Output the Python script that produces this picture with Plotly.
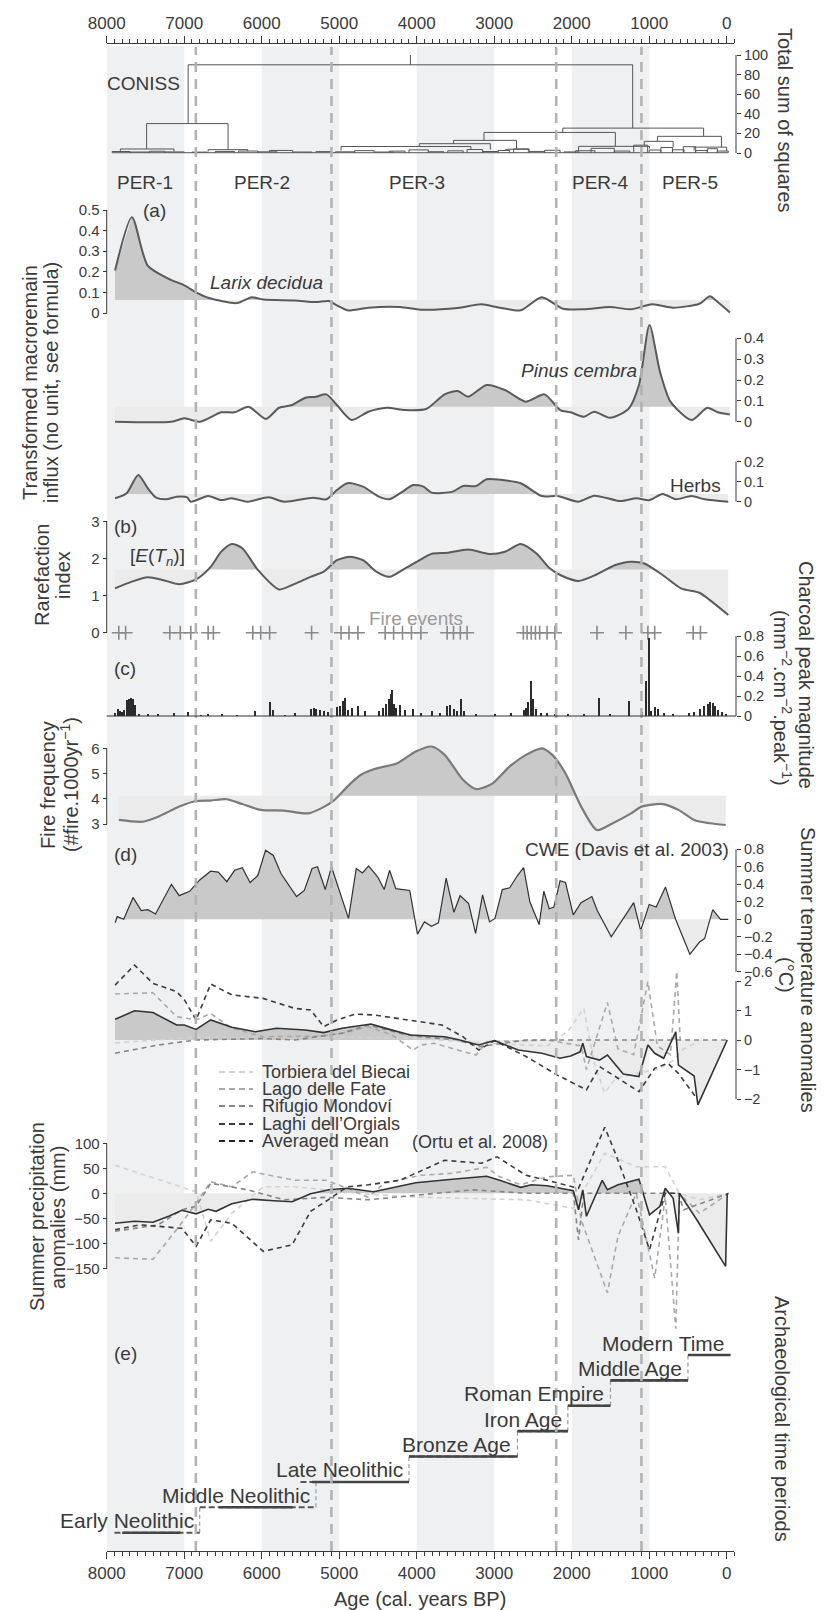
import plotly.graph_objects as go

W, H = 825, 1610
FONT = "Liberation Sans, Arial, Helvetica, sans-serif"
INK = "#3a3a3a"
DARK = "#c9c9c9"
LIGHT = "#ebebeb"
BAND = "#eff0f2"

# ---------------- data ----------------
zone_bounds = [6850, 5100, 2200, 1100]
band_starts = [8000, 6000, 4000, 2000]
band_ends = [7000, 5000, 3000, 1000]
zone_names = ["PER-1", "PER-2", "PER-3", "PER-4", "PER-5"]
zone_label_x = [7500, 6000, 4000, 1630, 480]

# CONISS merges: (left, right, height, left child h, right child h)
coniss_tree = [
    (6949, 1213, 90, 30, 25.4), (7485, 6434, 30, 4.1, 3.4), (7824, 7132, 4.1, 1.5, 1.8),
    (6691, 6180, 3.4, 1.6, 2.0), (2115, 298, 25.4, 21, 17), (3132, 1437, 21, 12.9, 6.8),
    (3525, 2712, 12.9, 9.5, 3.8), (3966, 3050, 9.5, 6.6, 3.6), (4976, 3300, 6.6, 2.4, 3.2),
    (2850, 2560, 3.8, 2.6, 1.6), (1912, 996, 6.8, 2.3, 4.8), (894, 68, 17, 11.9, 6.0),
    (1064, 691, 11.9, 8.0, 5.6), (420, 0, 6.0, 2.5, 2.0),
]
coniss_small = [
    (7930, 7700, 1.5), (7700, 7450, 1.0), (7450, 7250, 1.8), (7250, 7000, 1.1), (6900, 6700, 0.9),
    (6600, 6350, 1.6), (6300, 6050, 2.0), (6050, 5800, 1.2), (5900, 5600, 2.6), (5600, 5350, 1.0),
    (5300, 5100, 1.4), (5050, 4800, 1.2), (4800, 4550, 2.4), (4550, 4300, 1.0), (4350, 4150, 1.9),
    (4100, 3850, 3.2), (3850, 3650, 1.3), (3600, 3400, 2.2), (3350, 3150, 3.6), (3150, 2950, 1.5),
    (2950, 2800, 2.6), (2750, 2550, 4.2), (2550, 2350, 1.6), (2350, 2150, 2.8), (2100, 1900, 1.1),
    (1950, 1700, 2.3), (1750, 1450, 4.8), (1450, 1250, 2.0), (1200, 1020, 8.0), (1000, 850, 3.0),
    (850, 700, 5.6), (700, 550, 3.3), (560, 400, 6.4), (400, 250, 2.5), (250, 120, 4.4), (120, -20, 2.0),
]
coniss_root_top = 100

larix_age = [7892, 7675, 7471, 7200, 6997, 6847, 6692, 6318, 6130, 5980, 5573, 5302, 5132, 5030, 4895,
             4624, 4216, 3946, 3471, 3166, 2929, 2657, 2386, 2115, 1844, 1505, 1234, 963, 691, 352, 217, 115, -41]
larix_val = [0.206, 0.465, 0.23, 0.166, 0.134, 0.10, 0.074, 0.048, 0.077, 0.065, 0.061, 0.053, 0.058, 0.037, 0.013,
             0.026, 0.029, 0.016, 0.024, 0.042, 0.026, 0.013, 0.077, 0.021, 0.018, 0.029, 0.018, 0.042, 0.026, 0.045, 0.081, 0.053, 0.002]
larix_thr = 0.063

pinus_age = [7892, 7166, 6997, 6793, 6522, 6352, 6169, 5946, 5776, 5607, 5437, 5302, 5166, 5030, 4840, 4624, 4386,
             4149, 3878, 3640, 3471, 3335, 3098, 2861, 2590, 2352, 2149, 2013, 1844, 1708, 1505, 1268, 1132, 996,
             861, 725, 454, 250, 115, -41]
pinus_val = [0.0, 0.0, 0.016, 0.0, 0.045, 0.045, 0.072, 0.013, 0.067, 0.08, 0.115, 0.12, 0.131, 0.08, 0.008, 0.048, 0.067,
             0.056, 0.061, 0.131, 0.147, 0.12, 0.176, 0.152, 0.096, 0.131, 0.056, 0.045, 0.024, 0.048, 0.019, 0.061, 0.176, 0.464,
             0.24, 0.096, 0.008, 0.067, 0.045, 0.035]
pinus_thr = 0.072

herbs_age = [7892, 7743, 7593, 7471, 7369, 7234, 7098, 6963, 6915, 6692, 6522, 6386, 6183, 5912, 5709, 5336, 5166,
             5030, 4895, 4692, 4488, 4352, 4183, 4047, 3912, 3810, 3539, 3403, 3234, 3098, 2895, 2657, 2386, 2183,
             1912, 1708, 1369, 1166, 996, 827, 657, 454, 284, -20]
herbs_val = [0.017, 0.042, 0.133, 0.067, 0.022, 0.012, 0.025, 0.022, 0.0, 0.028, 0.008, 0.017, 0.0, 0.022, 0.0, 0.02, 0.012,
             0.058, 0.092, 0.075, 0.025, 0.012, 0.05, 0.083, 0.075, 0.045, 0.05, 0.078, 0.078, 0.112, 0.108, 0.092, 0.028, 0.028,
             0.0, 0.03, 0.003, 0.017, 0.008, 0.038, 0.012, 0.028, 0.012, 0.0]
herbs_thr = 0.038

rare_age = [7892, 7675, 7471, 7268, 7064, 6847, 6658, 6522, 6386, 6250, 6047, 5776, 5573, 5370, 5200, 5030, 4861,
            4692, 4522, 4352, 4149, 3946, 3810, 3607, 3335, 3064, 2861, 2657, 2454, 2284, 2149, 1912, 1674, 1437,
            1234, 1064, 827, 590, 352, 217, -20]
rare_val = [1.2, 1.38, 1.5, 1.42, 1.31, 1.44, 1.78, 2.19, 2.4, 2.28, 1.69, 1.17, 1.32, 1.51, 1.65, 1.96, 2.05,
            1.96, 1.65, 1.51, 1.74, 1.98, 2.13, 2.16, 2.25, 2.13, 2.19, 2.4, 2.14, 1.74, 1.56, 1.40, 1.58, 1.83,
            1.92, 1.87, 1.56, 1.2, 1.08, 0.88, 0.48]
rare_thr = 1.71

fire_events = [7844, 7756, 7186, 7051, 6915, 6691, 6624, 6115, 6013, 5898, 5356, 4976, 4874, 4759, 4407, 4298,
               4183, 4068, 3946, 3607, 3525, 3437, 3349, 2624, 2576, 2522, 2468, 2413, 2318, 2217, 1674, 1301,
               1017, 929, 433, 339]

char_age = [7892, 7864, 7837, 7810, 7776, 7742, 7715, 7688, 7661, 7634, 7593, 7471, 7336, 7132, 6949, 6793, 6691,
            6522, 6319, 6095, 5898, 5858, 5708, 5573, 5369, 5335, 5302, 5247, 5200, 5152, 5030, 4990, 4949, 4929,
            4895, 4840, 4759, 4671, 4488, 4434, 4400, 4366, 4339, 4318, 4298, 4271, 4217, 4149, 4047, 3946, 3810,
            3708, 3607, 3573, 3525, 3485, 3437, 3390, 3234, 2996, 2793, 2623, 2590, 2562, 2535, 2508, 2468, 2400,
            2318, 2217, 2047, 1844, 1654, 1505, 1268, 1098, 1044, 1003, 976, 929, 895, 813, 691, 488, 420, 352,
            298, 250, 217, 183, 149, 115, 68, 14]
char_val = [0.03, 0.075, 0.05, 0.04, 0.065, 0.16, 0.17, 0.18, 0.175, 0.11, 0.02, 0.02, 0.02, 0.03, 0.04, 0.01, 0.02,
            0.02, 0.01, 0.05, 0.14, 0.06, 0.01, 0.03, 0.07, 0.08, 0.07, 0.06, 0.05, 0.04, 0.09, 0.10, 0.15, 0.18,
            0.06, 0.08, 0.10, 0.05, 0.05, 0.08, 0.12, 0.17, 0.22, 0.26, 0.12, 0.08, 0.11, 0.06, 0.07, 0.03, 0.05,
            0.03, 0.10, 0.11, 0.07, 0.05, 0.17, 0.05, 0.02, 0.02, 0.03, 0.06, 0.08, 0.14, 0.35, 0.17, 0.07, 0.03,
            0.03, 0.02, 0.02, 0.02, 0.18, 0.02, 0.15, 0.04, 0.35, 0.78, 0.05, 0.09, 0.07, 0.03, 0.02, 0.03, 0.04, 0.07,
            0.10, 0.12, 0.14, 0.13, 0.10, 0.06, 0.04, 0.02]

ff_age = [7844, 7539, 7336, 7064, 6847, 6658, 6454, 6251, 6013, 5708, 5403, 5234, 5064, 4895, 4725, 4556, 4251,
          4013, 3810, 3640, 3403, 3234, 3030, 2793, 2590, 2386, 2250, 2081, 1878, 1674, 1471, 1234, 1098, 827,
          623, 420, 217, 13]
ff_val = [3.16, 3.09, 3.29, 3.69, 3.91, 3.93, 3.98, 3.79, 3.56, 3.53, 3.42, 3.62, 3.95, 4.48, 4.94, 5.17, 5.41,
          5.87, 6.07, 5.74, 4.75, 4.38, 4.59, 5.3, 5.74, 6.0, 5.74, 5.01, 3.69, 2.76, 3.03, 3.42, 3.69, 3.79,
          3.56, 3.16, 3.03, 2.96]
ff_thr = 4.12

cwe_age = [7890, 7865, 7780, 7660, 7555, 7470, 7370, 7165, 7065, 6930, 6800, 6660, 6560, 6450, 6350, 6250, 6150,
           6050, 5950, 5850, 5750, 5550, 5450, 5350, 5280, 5180, 5100, 4880, 4780, 4700, 4620, 4500, 4420, 4350,
           4270, 4150, 4090, 3990, 3900, 3810, 3720, 3620, 3520, 3440, 3330, 3240, 3150, 3060, 2990, 2895, 2800,
           2700, 2620, 2540, 2420, 2360, 2290, 2230, 2150, 2080, 1980, 1880, 1740, 1670, 1490, 1200, 1110, 1000,
           910, 790, 660, 475, 350, 285, 180, 80, -20]
cwe_val = [-0.04, 0.03, 0.0, 0.25, 0.10, 0.11, 0.06, 0.40, 0.27, 0.32, 0.45, 0.55, 0.54, 0.43, 0.56, 0.59, 0.42,
           0.50, 0.79, 0.73, 0.52, 0.26, 0.33, 0.58, 0.60, 0.34, 0.60, 0.01, 0.58, 0.53, 0.61, 0.48, 0.34, 0.56,
           0.35, 0.34, 0.33, -0.17, -0.03, -0.08, -0.04, 0.47, 0.08, 0.27, 0.18, -0.16, 0.28, -0.03, 0.01, 0.34, 0.36,
           0.50, 0.59, 0.20, -0.06, 0.32, 0.12, 0.14, 0.44, 0.42, 0.05, 0.19, 0.26, 0.10, -0.20, 0.19, -0.13, 0.17,
           0.14, 0.37, 0.0, -0.40, -0.26, -0.22, 0.11, 0.0, 0.0]

series_names = ["Torbiera del Biecai", "Lago delle Fate", "Rifugio Mondoví", "Laghi dell\u2019Orgials", "Averaged mean"]
series_colors = ["#d2d2d2", "#a9a9a9", "#858585", "#3c3c3c", "#222222"]

t_mean_age = [7892, 7641, 7403, 7098, 6997, 6847, 6658, 6386, 6081, 5810, 5437, 5200, 4963, 4590, 4352, 4081, 3640,
              3471, 3200, 2996, 2691, 2386, 2149, 2013, 1891, 1857, 1810, 1640, 1539, 1335, 1132, 1017, 929, 813,
              657, 623, 420, 372, -7]
t_mean_val = [0.70, 0.99, 0.93, 0.51, 0.51, 0.36, 0.68, 0.43, 0.28, 0.40, 0.34, 0.25, 0.40, 0.54, 0.36, 0.17, 0.11,
              0.02, -0.17, -0.02, -0.34, -0.45, -0.62, -0.54, -0.40, -0.11, -0.56, -0.68, -0.51, -1.15, -1.24, -0.17, -0.45, -0.62,
              0.28, -0.85, -1.22, -2.2, 0.0]
t_orgials_age = [7892, 7641, 7403, 7098, 6997, 6847, 6658, 6386, 5980, 5573, 5369, 5200, 5030, 4793, 4556, 4149, 3674,
                 3403, 3200, 2996, 2590, 2183, 1810, 1640, 1437, 1132, 929, 759, 623, 386]
t_orgials_val = [1.86, 2.54, 1.92, 1.64, 1.36, 0.68, 1.90, 1.53, 1.41, 1.07, 1.02, 0.45, 0.68, 0.88, 0.85, 0.70, 0.51,
                 0.11, -0.34, -0.02, -0.56, -1.19, -1.69, -0.90, -1.24, -1.75, -0.96, -0.79, -1.13, -1.98]
t_fate_age = [7892, 7403, 7098, 6847, 6658, 6386, 5980, 5573, 5234, 4963, 4624, 4318, 4047, 3946, 3776, 3471, 3234,
              3098, 2318, 1878, 1810, 1539, 1403, 1200, 1017, 895, 725, 644, 600]
t_fate_val = [1.56, 1.60, 0.79, 0.68, 0.90, 0.40, 0.11, 0.11, 0.13, 0.23, 0.45, 0.17, -0.34, -0.17, -0.11, -0.34, -0.51,
              -0.06, 0.0, -0.2, -1.0, 1.27, -0.3, -0.5, 1.98, -0.2, -0.5, 2.32, 0.0]
t_mondovi_age = [7892, 7336, 6847, 6386, 5980, 5573, 5234, 4963, 4624, 4217, 4013, 3471, 3200, 2590, -27]
t_mondovi_val = [-0.45, -0.17, 0.0, 0.02, 0.05, 0.0, 0.13, 0.23, 0.51, 0.23, 0.13, 0.0, -0.23, 0.0, 0.0]
t_biecai_age = [7892, 6847, 5980, 4963, 3946, 3200, 2318, 2047, 1844, 1708, 1573, 1437, 1166, 895, 691, 556, 386]
t_biecai_val = [-0.1, 0.1, 0.05, 0.1, 0.05, -0.1, -0.2, 0.3, 1.07, -0.8, -1.8, -1.3, -1.13, -1.0, -0.7, -0.3, -0.1]

p_mean_age = [7892, 7641, 7403, 7200, 7030, 6847, 6691, 6590, 6386, 6115, 5844, 5607, 5369, 5132, 4895, 4556, 4285,
              4013, 3539, 3166, 3098, 2929, 2657, 2522, 2318, 1979, 1912, 1857, 1810, 1606, 1539, 1403, 1132, 996,
              861, 793, 691, 623, 610, 386, 14, -7]
p_mean_val = [-60, -56, -58, -46, -34, -41, -32, -36, -21, -12, -15, -17, -1, 7, 10, 3, 12, 21, 28, 32, 34, 26, 12, 17,
              15, 5, -33, 7, -46, 26, 7, 17, 28, -43, -26, 10, -10, -80, 0, -53, -146, 0]
p_orgials_age = [7892, 7573, 7336, 7030, 6847, 6658, 6386, 5980, 5607, 5369, 5132, 4895, 4624, 4217, 3640, 3166, 2963,
                 2590, 2318, 1912, 1573, 1437, 1166, 996, 793, 623]
p_orgials_val = [-73, -63, -66, -70, -106, -53, -60, -116, -103, -36, -12, 13, 17, 26, 66, 60, 73, 36, 26, 10, 132, 80,
                 -33, -113, 0, 0]
p_fate_age = [7892, 7403, 7064, 6847, 6658, 6386, 6115, 5573, 5166, 4895, 4624, 4420, 3946, 3539, 3098, 2929, 2657,
              2318, 1979, 1878, 1539, 1403, 1166, 929, 793, 657, 610, 352, -27]
p_fate_val = [-129, -132, -66, -20, 23, 13, 43, 26, 26, 10, -8, 20, 36, 40, 52, 33, 17, 33, 36, -53, -199, -86, 0, -169,
              -7, -271, 0, -40, 0]
p_mondovi_age = [7892, 7336, 7030, 6847, 6658, 6183, 5708, 5166, 4624, 3946, 3268, 2590, 1979, 1912, 1844, 623, 556, -27]
p_mondovi_val = [-76, -63, -33, -26, 20, 7, -13, -8, -13, -3, 7, 0, 0, -93, 0, 0, -33, 0]
p_biecai_age = [7892, 6847, 6658, 6386, 5980, 5573, 5166, 4624, 3946, 3268, 2590, 1979, 1573, 1166, 793, 610, 352, -27]
p_biecai_val = [56, 3, -96, -40, 13, 13, 7, -2, -8, -10, -13, -30, 80, 53, 53, 0, -13, 0]

periods = ["Early Neolithic", "Middle Neolithic", "Late Neolithic", "Bronze Age", "Iron Age",
           "Roman Empire", "Middle Age", "Modern Time"]
per_start = [7900, 6800, 5500, 4100, 2700, 2050, 1500, 500]
per_end = [6800, 5300, 4100, 2700, 2050, 1500, 500, -50]
per_solid_start = [7800, 6550, 5350, 4100, 2700, 2050, 1500, 500]
per_solid_end = [7050, 5600, 4100, 2700, 2050, 1500, 500, -50]

x_ticks = [8000, 7000, 6000, 5000, 4000, 3000, 2000, 1000, 0]

# ---------------- helpers ----------------
def px(x):
    return x / W


def py(y):
    return 1 - y / H


def yaxis_def(v1, p1, v2, p2, top, bot, side, tickvals, ticktext, pos):
    k = (v2 - v1) / (p2 - p1)
    vtop = v1 + k * (top - p1)
    vbot = v1 + k * (bot - p1)
    d = dict(domain=[py(bot), py(top)], range=[vbot, vtop], anchor="free", position=px(pos), side=side,
             showgrid=False, zeroline=False, showline=False, fixedrange=True, automargin=False)
    if tickvals is None:
        d.update(visible=False)
    else:
        d.update(tickmode="array", tickvals=tickvals, ticktext=ticktext, ticks="outside", ticklen=4,
                 tickwidth=1, tickcolor=INK,
                 tickfont=dict(size=15 if side == "left" else 14.5, color=INK, family=FONT))
    return d


XL_PX, XR_PX = 106.7, 734.45
LEFT_AX, RIGHT_AX = 106.7, 736

fig = go.Figure()
shapes = []
annotations = []


def spine(yref, lo, hi, xpos):
    shapes.append(dict(type="line", xref="paper", yref=yref, x0=px(xpos), x1=px(xpos), y0=lo, y1=hi,
                       line=dict(color=INK, width=1)))


def fill_threshold(xs, ys, thr, yref, dark=DARK, light=LIGHT):
    X, Y = [], []
    for i in range(len(xs)):
        if i > 0 and (ys[i - 1] - thr) * (ys[i] - thr) < 0:
            t = (thr - ys[i - 1]) / (ys[i] - ys[i - 1])
            X.append(xs[i - 1] + t * (xs[i] - xs[i - 1]))
            Y.append(thr)
        X.append(xs[i])
        Y.append(ys[i])
    up = [max(v, thr) for v in Y]
    dn = [min(v, thr) for v in Y]
    for arr, col in ((dn, light), (up, dark)):
        fig.add_trace(go.Scatter(x=[X[0], X[-1]], y=[thr, thr], yaxis=yref, mode="lines",
                                 line=dict(width=0), hoverinfo="skip", showlegend=False))
        fig.add_trace(go.Scatter(x=X, y=arr, yaxis=yref, mode="lines", line=dict(width=0),
                                 fill="tonexty", fillcolor=col, hoverinfo="skip", showlegend=False))


def curve(xs, ys, yref, color="#5a5a5a", width=2.0, shape="spline", dash=None):
    fig.add_trace(go.Scatter(x=xs, y=ys, yaxis=yref, mode="lines",
                             line=dict(color=color, width=width, shape=shape, smoothing=0.7, dash=dash),
                             hoverinfo="skip", showlegend=False))


def text(s, x, y, size=19, color=INK, angle=0, xanchor="center", italic=False):
    annotations.append(dict(text=s, x=px(x), y=py(y), xref="paper", yref="paper", showarrow=False,
                            textangle=angle, xanchor=xanchor, yanchor="middle",
                            font=dict(size=size, color=color, family=FONT,
                                      style="italic" if italic else "normal")))


# ---------------- background bands & zone lines ----------------
for a, b in zip(band_starts, band_ends):
    shapes.append(dict(type="rect", xref="x", yref="paper", x0=a, x1=b, y0=py(1551), y1=py(46),
                       fillcolor=BAND, line=dict(width=0), layer="below"))
for z in zone_bounds:
    shapes.append(dict(type="line", xref="x", yref="paper", x0=z, x1=z, y0=py(1551), y1=py(47),
                       line=dict(color="#b3b3b3", width=2.6, dash="10px,7px"), layer="above"))

# ---------------- CONISS ----------------
cx, cy = [], []
for xl, xr, h, hl, hr in coniss_tree:
    cx += [xl, xl, xr, xr, None]
    cy += [hl, h, h, hr, None]
for xl, xr, h in coniss_small:
    cx += [xl, xl, xr, xr, None]
    cy += [0.3, h, h, 0.3, None]
root = coniss_tree[0]
cx += [(root[0] + root[1]) / 2, (root[0] + root[1]) / 2, None, coniss_small[0][0], coniss_small[-1][1]]
cy += [root[2], coniss_root_top, None, 0.3, 0.3]
fig.add_trace(go.Scatter(x=cx, y=cy, yaxis="y", mode="lines", line=dict(color="#555", width=1),
                         hoverinfo="skip", showlegend=False))

# ---------------- macroremains ----------------
fill_threshold(larix_age, larix_val, larix_thr, "y2")
curve(larix_age, larix_val, "y2")
fill_threshold(pinus_age, pinus_val, pinus_thr, "y3")
curve(pinus_age, pinus_val, "y3")
fill_threshold(herbs_age, herbs_val, herbs_thr, "y4")
curve(herbs_age, herbs_val, "y4")

# ---------------- rarefaction ----------------
fill_threshold(rare_age, rare_val, rare_thr, "y5")
curve(rare_age, rare_val, "y5")
fig.add_trace(go.Scatter(x=fire_events, y=[0] * len(fire_events), yaxis="y5", mode="markers",
                         marker=dict(symbol="cross-thin", size=10, line=dict(width=1.6, color="#8a8a8a")),
                         hoverinfo="skip", showlegend=False, cliponaxis=False))

# ---------------- charcoal ----------------
fig.add_trace(go.Bar(x=char_age, y=char_val, yaxis="y6", width=14, marker=dict(color="#2b2b2b", line=dict(width=0)),
                     hoverinfo="skip", showlegend=False))

# ---------------- fire frequency ----------------
fill_threshold(ff_age, ff_val, ff_thr, "y7")
curve(ff_age, ff_val, "y7", color="#7a7a7a", width=2.2)

# ---------------- CWE ----------------
fill_threshold(cwe_age, cwe_val, 0.0, "y8")
curve(cwe_age, cwe_val, "y8", color="#333", width=1.2, shape="linear")

# ---------------- temperature ----------------
fill_threshold(t_mean_age, t_mean_val, 0.0, "y9")
for ag, vv, col in ((t_biecai_age, t_biecai_val, series_colors[0]), (t_fate_age, t_fate_val, series_colors[1]),
                    (t_mondovi_age, t_mondovi_val, series_colors[2]), (t_orgials_age, t_orgials_val, series_colors[3])):
    curve(ag, vv, "y9", color=col, width=1.6, shape="linear", dash="5px,4px")
curve(t_mean_age, t_mean_val, "y9", color="#333", width=1.6, shape="linear")

# ---------------- precipitation ----------------
fill_threshold(p_mean_age, p_mean_val, 0.0, "y10")
for ag, vv, col in ((p_biecai_age, p_biecai_val, series_colors[0]), (p_fate_age, p_fate_val, series_colors[1]),
                    (p_mondovi_age, p_mondovi_val, series_colors[2]), (p_orgials_age, p_orgials_val, series_colors[3])):
    curve(ag, vv, "y10", color=col, width=1.6, shape="linear", dash="5px,4px")
curve(p_mean_age, p_mean_val, "y10", color="#333", width=1.6, shape="linear")

# ---------------- archaeology ----------------
dx, dy, sx, sy, vx, vy = [], [], [], [], [], []
for k in range(len(periods)):
    dx += [per_start[k], per_end[k], None]
    dy += [k, k, None]
    sx += [per_solid_start[k], per_solid_end[k], None]
    sy += [k, k, None]
    if k < len(periods) - 1:
        vx += [per_end[k], per_end[k], None]
        vy += [k, k + 1, None]
fig.add_trace(go.Scatter(x=vx, y=vy, yaxis="y11", mode="lines", line=dict(color="#999", width=1.2, dash="4px,3px"),
                         hoverinfo="skip", showlegend=False))
fig.add_trace(go.Scatter(x=dx, y=dy, yaxis="y11", mode="lines", line=dict(color="#555", width=2.0, dash="6px,3px"),
                         hoverinfo="skip", showlegend=False))
fig.add_trace(go.Scatter(x=sx, y=sy, yaxis="y11", mode="lines", line=dict(color="#444", width=2.6),
                         hoverinfo="skip", showlegend=False))
for k, name in enumerate(periods):
    annotations.append(dict(text=name, x=per_end[k], y=k, xref="x", yref="y11", xanchor="right", yanchor="middle",
                            xshift=-4, yshift=12, showarrow=False, font=dict(size=21, color=INK, family=FONT)))

# ---------------- axes ----------------
layout_axes = {}
layout_axes["yaxis"] = yaxis_def(0, 153, 100, 55, 48, 160, "right", [0, 20, 40, 60, 80, 100],
                                 ["0", "20", "40", "60", "80", "100"], RIGHT_AX)
layout_axes["yaxis2"] = yaxis_def(0, 313, 0.5, 210, 195, 322, "left", [0, 0.1, 0.2, 0.3, 0.4, 0.5],
                                  ["0", "0.1", "0.2", "0.3", "0.4", "0.5"], LEFT_AX)
layout_axes["yaxis3"] = yaxis_def(0, 421.7, 0.4, 338.3, 318, 430, "right", [0, 0.1, 0.2, 0.3, 0.4],
                                  ["0", "0.1", "0.2", "0.3", "0.4"], RIGHT_AX)
layout_axes["yaxis4"] = yaxis_def(0, 501.7, 0.2, 461.5, 450, 512, "right", [0, 0.1, 0.2],
                                  ["0", "0.1", "0.2"], RIGHT_AX)
layout_axes["yaxis5"] = yaxis_def(0, 632.7, 3, 521.7, 515, 645, "left", [0, 1, 2, 3],
                                  ["0", "1", "2", "3"], LEFT_AX)
layout_axes["yaxis6"] = yaxis_def(0, 716, 0.8, 636, 628, 722, "right", [0, 0.2, 0.4, 0.6, 0.8],
                                  ["0", "0.2", "0.4", "0.6", "0.8"], RIGHT_AX)
layout_axes["yaxis7"] = yaxis_def(3, 824, 6, 748.3, 740, 832, "left", [3, 4, 5, 6],
                                  ["3", "4", "5", "6"], LEFT_AX)
layout_axes["yaxis8"] = yaxis_def(0, 919.3, 0.8, 849.3, 842, 975, "right",
                                  [-0.6, -0.4, -0.2, 0, 0.2, 0.4, 0.6, 0.8],
                                  ["\u22120.6", "\u22120.4", "\u22120.2", "0", "0.2", "0.4", "0.6", "0.8"], RIGHT_AX)
layout_axes["yaxis9"] = yaxis_def(0, 1040, 2, 981, 955, 1115, "right", [-2, -1, 0, 1, 2],
                                  ["\u22122", "\u22121", "0", "1", "2"], RIGHT_AX)
layout_axes["yaxis10"] = yaxis_def(0, 1193.3, 100, 1143.3, 1118, 1340, "left", [-150, -100, -50, 0, 50, 100],
                                   ["\u2212150", "\u2212100", "\u221250", "0", "50", "100"], LEFT_AX)
layout_axes["yaxis11"] = yaxis_def(0, 1532.7, 7, 1355, 1335, 1545, "left", None, None, LEFT_AX)

spine("y", 0, 100, RIGHT_AX)
spine("y2", 0, 0.5, LEFT_AX)
spine("y3", 0, 0.4, RIGHT_AX)
spine("y4", 0, 0.2, RIGHT_AX)
spine("y5", 0, 3, LEFT_AX)
spine("y6", 0, 0.8, RIGHT_AX)
spine("y7", 3, 6, LEFT_AX)
spine("y8", -0.6, 0.8, RIGHT_AX)
spine("y9", -2, 2, RIGHT_AX)
spine("y10", -150, 100, LEFT_AX)
shapes.append(dict(type="line", xref="paper", yref="y6", x0=px(XL_PX), x1=px(RIGHT_AX), y0=0, y1=0,
                   line=dict(color="#333", width=1.2)))

xcommon = dict(range=[8000, -100], showgrid=False, zeroline=False, showline=True, linecolor=INK, linewidth=1,
               tickmode="array", tickvals=x_ticks, ticktext=[str(v) for v in x_ticks],
               ticks="outside", ticklen=7, tickwidth=1, tickcolor=INK,
               minor=dict(dtick=100, tick0=0, ticks="outside", ticklen=4, tickcolor=INK, tickwidth=1, showgrid=False),
               tickfont=dict(size=17, color=INK, family=FONT), fixedrange=True, anchor="free", automargin=False)
layout_axes["xaxis"] = dict(xcommon, domain=[px(XL_PX), px(XR_PX)], position=py(1551), side="bottom")
layout_axes["xaxis2"] = dict(xcommon, domain=[px(XL_PX), px(XR_PX)], position=py(43), side="top",
                             overlaying="x", matches="x")
fig.add_trace(go.Scatter(x=[None], y=[None], xaxis="x2", yaxis="y", showlegend=False, hoverinfo="skip"))

# ---------------- labels ----------------
text("CONISS", 143, 83, size=19)
for name, xv in zip(zone_names, zone_label_x):
    annotations.append(dict(text=name, x=xv, y=py(182), xref="x", yref="paper", showarrow=False,
                            xanchor="center", yanchor="middle", font=dict(size=19, color=INK, family=FONT)))
text("(a)", 154, 210)
text("Larix decidua", 266, 282, italic=True)
text("Pinus cembra", 579, 370, italic=True)
text("Herbs", 695, 486)
text("(b)", 125, 527)
text("[<i>E</i>(<i>T</i><sub><i>n</i></sub>)]", 157, 557)
text("Fire events", 416, 619, color="#9a9a9a")
text("(c)", 125, 668)
text("(d)", 125, 855)
text("CWE (Davis et al. 2003)", 731, 849, xanchor="right")
text("(Ortu et al. 2008)", 480, 1142, size=18)
text("(e)", 125, 1353)

leg_y = [1072, 1089, 1106, 1124, 1141]
for nm, col, yy in zip(series_names, series_colors, leg_y):
    shapes.append(dict(type="line", xref="paper", yref="paper", x0=px(219), x1=px(253), y0=py(yy), y1=py(yy),
                       line=dict(color=col, width=1.8, dash="6px,4px")))
    text(nm, 260, yy, size=18, xanchor="left")

text("Total sum of squares", 785, 120, size=20, angle=90)
text("Transformed macroremain", 30, 383, size=20, angle=-90)
text("influx (no unit, see formula)", 51, 383, size=20, angle=-90)
text("Rarefaction", 42, 575, size=20, angle=-90)
text("index", 63, 575, size=20, angle=-90)
text("Charcoal peak magnitude", 806, 675, size=20, angle=90)
text("(mm<sup>\u22122</sup>.cm<sup>\u22122</sup>.peak<sup>\u22121</sup>)", 783, 698, size=20, angle=90)
text("Fire frequency", 48, 785, size=20, angle=-90)
text("(#fire.1000yr<sup>\u22121</sup>)", 69, 785, size=20, angle=-90)
text("Summer temperature anomalies", 808, 970, size=20, angle=90)
text("(\u00b0C)", 786, 975, size=20, angle=90)
text("Summer precipitation", 37, 1217, size=20, angle=-90)
text("anomalies (mm)", 58, 1217, size=20, angle=-90)
text("Archaeological time periods", 782, 1419, size=20, angle=90)
text("Age (cal. years BP)", 420, 1599, size=20)

fig.update_layout(template="none", width=W, height=H, autosize=False,
                  margin=dict(l=0, r=0, t=0, b=0, pad=0, autoexpand=False),
                  paper_bgcolor="white", plot_bgcolor="rgba(0,0,0,0)", showlegend=False,
                  barmode="overlay", bargap=0, font=dict(family=FONT, color=INK),
                  shapes=shapes, annotations=annotations, **layout_axes)

fig.write_html("out.html", config={"displayModeBar": False},
               post_script="document.body.style.margin='0px';")
